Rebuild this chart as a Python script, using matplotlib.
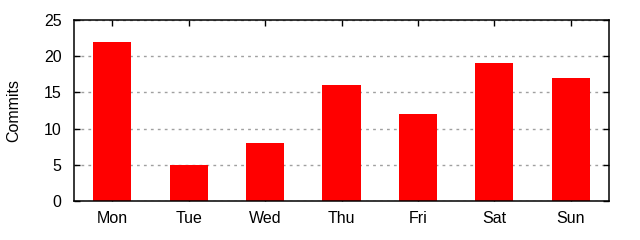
import matplotlib
matplotlib.use("Agg")
import matplotlib.pyplot as plt

days = ["Mon", "Tue", "Wed", "Thu", "Fri", "Sat", "Sun"]
commits = [22, 5, 8, 16, 12, 19, 17]
yticks = [0, 5, 10, 15, 20, 25]

plt.rcParams['font.family'] = ['Liberation Sans', 'DejaVu Sans']

fig = plt.figure(figsize=(6.4, 2.4), dpi=100)
ax = fig.add_axes([74/640, 39/240, 535/640, 181/240])
x = list(range(len(days)))
ax.bar(x, commits, width=0.5, color='#ff0000', zorder=3)
ax.set_xlim(-0.5, len(days) - 0.5)
ax.set_ylim(0, 25)
ax.set_xticks(x)
ax.set_xticklabels(days)
ax.set_yticks(yticks)
ax.yaxis.grid(True, color='#a0a0a0', linestyle=(0, (2, 3)), linewidth=1, zorder=1)
ax.set_axisbelow(True)
ax.tick_params(direction='in', top=True, right=True, length=4, width=1, labelsize=11.5)
ax.tick_params(axis='x', pad=7)
ax.tick_params(axis='y', pad=9)
for s in ax.spines.values():
    s.set_linewidth(1.1)
    s.set_zorder(4)
fig.text(13.5/640, 1 - 110.5/240, "Commits", rotation=90, ha='center', va='center', fontsize=11.5)
fig.savefig("out.png", dpi=100)
